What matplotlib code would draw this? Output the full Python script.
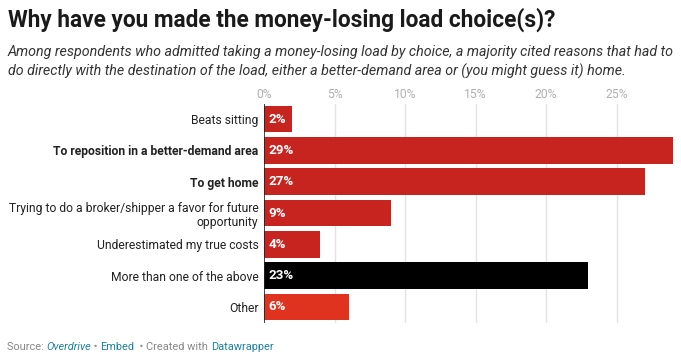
import matplotlib
matplotlib.use("Agg")
import matplotlib.pyplot as plt

# Chart data
categories = [
    "Beats sitting",
    "To reposition in a better-demand area",
    "To get home",
    "Trying to do a broker/shipper a favor for future\nopportunity",
    "Underestimated my true costs",
    "More than one of the above",
    "Other",
]
values = [2, 29, 27, 9, 4, 23, 6]
bold_rows = [1, 2]
bar_colors = ["#c8241f", "#c8241f", "#c8241f", "#c8241f", "#c8241f", "#000000", "#df3320"]
ticks = [0, 5, 10, 15, 20, 25]
tick_labels = ["0%", "5%", "10%", "15%", "20%", "25%"]

title = "Why have you made the money-losing load choice(s)?"
subtitle = ("Among respondents who admitted taking a money-losing load by choice, a majority cited reasons that had to\n"
            "do directly with the destination of the load, either a better-demand area or (you might guess it) home.")

plt.rcParams['font.family'] = ['Roboto', 'DejaVu Sans']

W, H = 681, 359
fig = plt.figure(figsize=(W / 100, H / 100), dpi=100)

# axes placement in pixels
left, right, top, bottom = 264, 673, 103.5, 322.5
ax = fig.add_axes([left / W, 1 - bottom / H, (right - left) / W, (bottom - top) / H])

y = list(range(len(categories)))
ax.barh(y, values, height=0.85, color=bar_colors, zorder=2)
ax.set_ylim(len(categories) - 0.5, -0.5)
ax.set_xlim(0, 29)

for i, v in enumerate(values):
    ax.annotate(f"{v}%", (0, i), xytext=(3.5, 0), textcoords="offset points",
                va="center", ha="left", color="white", fontsize=9.6, fontweight="bold", zorder=3)

for t in ticks[1:]:
    ax.axvline(t, color="#e3e3e3", lw=1, zorder=1)
ax.axvline(0, color="#222222", lw=1.2, zorder=4)

ax.set_yticks(y)
ax.set_yticklabels(categories, fontsize=8.7, color="#222222", linespacing=1.15)
for i, lab in enumerate(ax.get_yticklabels()):
    if i in bold_rows:
        lab.set_fontweight("bold")
ax.tick_params(axis="y", length=0, pad=4)

ax.xaxis.tick_top()
ax.set_xticks(ticks)
ax.set_xticklabels(tick_labels, fontsize=8.7, color="#b0b0b0")
ax.tick_params(axis="x", length=0, pad=1.5)

for s in ax.spines.values():
    s.set_visible(False)

fig.text(8 / W, 1 - 20 / H, title, fontsize=16.3, fontweight="bold", color="#1a1a1a", va="center")
fig.text(8 / W, 1 - 62 / H, subtitle, fontsize=10.3, style="italic", color="#333333",
         va="center", linespacing=1.35)

# footer pieces laid out one after another
footer = [("Source: ", "#888888", "normal"), ("Overdrive", "#1d81a2", "italic"),
          (" \u2022 ", "#888888", "normal"), ("Embed", "#1d81a2", "normal"),
          ("  \u2022 Created with ", "#888888", "normal"), ("Datawrapper", "#1d81a2", "normal")]
renderer = fig.canvas.get_renderer()
x = 7
for txt, col, st in footer:
    t = fig.text(x / W, 1 - 347 / H, txt, fontsize=7.9, color=col, style=st, va="center")
    x += t.get_window_extent(renderer).width

fig.savefig("out.png", dpi=100, facecolor="white")
